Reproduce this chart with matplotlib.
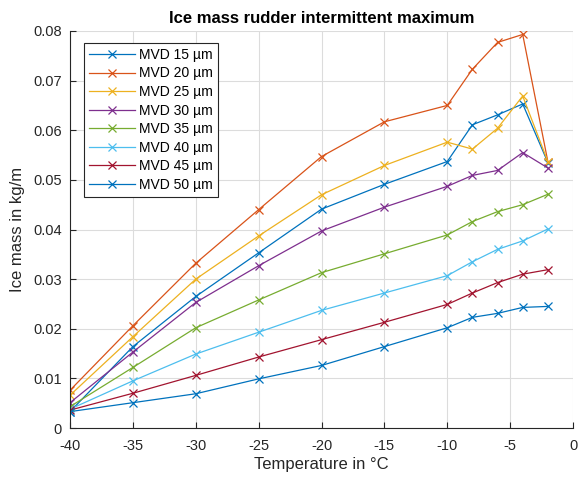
import matplotlib
matplotlib.use("Agg")
import matplotlib.pyplot as plt

plt.rcParams['font.family'] = ['Liberation Sans', 'DejaVu Sans']
plt.rcParams['axes.unicode_minus'] = False

# temperatures (deg C)
temps = [-40, -35, -30, -25, -20, -15, -10, -8, -6, -4, -2]

labels = ['MVD 15 µm', 'MVD 20 µm', 'MVD 25 µm', 'MVD 30 µm',
          'MVD 35 µm', 'MVD 40 µm', 'MVD 45 µm', 'MVD 50 µm']

# ice mass in kg/m
mvd15 = [0.0033, 0.0164, 0.0265, 0.0353, 0.0441, 0.0491, 0.0537, 0.0611, 0.0631, 0.0653, 0.0535]
mvd20 = [0.0076, 0.0206, 0.0332, 0.0440, 0.0547, 0.0617, 0.0650, 0.0723, 0.0777, 0.0793, 0.0537]
mvd25 = [0.0066, 0.0184, 0.0300, 0.0387, 0.0470, 0.0529, 0.0576, 0.0562, 0.0604, 0.0669, 0.0537]
mvd30 = [0.0051, 0.0153, 0.0253, 0.0327, 0.0397, 0.0445, 0.0487, 0.0509, 0.0519, 0.0555, 0.0524]
mvd35 = [0.0043, 0.0122, 0.0202, 0.0258, 0.0313, 0.0351, 0.0389, 0.0416, 0.0436, 0.0450, 0.0471]
mvd40 = [0.0038, 0.0095, 0.0149, 0.0193, 0.0237, 0.0272, 0.0307, 0.0335, 0.0360, 0.0377, 0.0401]
mvd45 = [0.0036, 0.0070, 0.0106, 0.0143, 0.0178, 0.0213, 0.0249, 0.0272, 0.0293, 0.0310, 0.0319]
mvd50 = [0.0033, 0.0051, 0.0069, 0.0099, 0.0126, 0.0164, 0.0202, 0.0223, 0.0231, 0.0243, 0.0245]

series = [mvd15, mvd20, mvd25, mvd30, mvd35, mvd40, mvd45, mvd50]

# matlab default colour order
colors = ['#0072BD', '#D95319', '#EDB120', '#7E2F8E',
          '#77AC30', '#4DBEEE', '#A2142F', '#0072BD']

fig = plt.figure(figsize=(5.81, 4.78), dpi=100)
ax = fig.add_axes([70 / 581, 50 / 478, 503 / 581, 397 / 478])

for y, lab, c in zip(series, labels, colors):
    ax.plot(temps, y, color=c, marker='x', markersize=5.5, linewidth=0.9,
            markeredgewidth=0.9, label=lab)

ax.set_xlim(-40, 0)
ax.set_ylim(0, 0.08)
ax.set_xticks(range(-40, 1, 5))
ax.set_yticks([0, 0.01, 0.02, 0.03, 0.04, 0.05, 0.06, 0.07, 0.08])
ax.set_yticklabels(['0', '0.01', '0.02', '0.03', '0.04', '0.05', '0.06', '0.07', '0.08'])

ax.grid(True, color='#dcdcdc', linewidth=0.8)
ax.set_axisbelow(True)
ax.spines['top'].set_visible(False)
ax.spines['right'].set_visible(False)
for s in ['left', 'bottom']:
    ax.spines[s].set_color('#262626')
    ax.spines[s].set_linewidth(0.8)
ax.tick_params(direction='in', length=4, colors='#262626', labelsize=10.5,
               labelcolor='#262626')
ax.tick_params(axis='x', pad=8)
ax.tick_params(axis='y', pad=6)

ax.set_title('Ice mass rudder intermittent maximum', fontsize=12,
             fontweight='bold', pad=6)
ax.set_xlabel('Temperature in °C', fontsize=12, color='#262626', labelpad=3)
ax.set_ylabel('Ice mass in kg/m', fontsize=12, color='#262626', labelpad=6)

leg = ax.legend(loc='upper left', bbox_to_anchor=(14 / 503, 1 - 12 / 397),
                borderaxespad=0, fontsize=10, handlelength=3.3,
                handletextpad=0.3, labelspacing=0.33, borderpad=0.35,
                fancybox=False, framealpha=1)
leg.get_frame().set_edgecolor('#262626')
leg.get_frame().set_linewidth(0.8)

fig.savefig('out.png', dpi=100)
